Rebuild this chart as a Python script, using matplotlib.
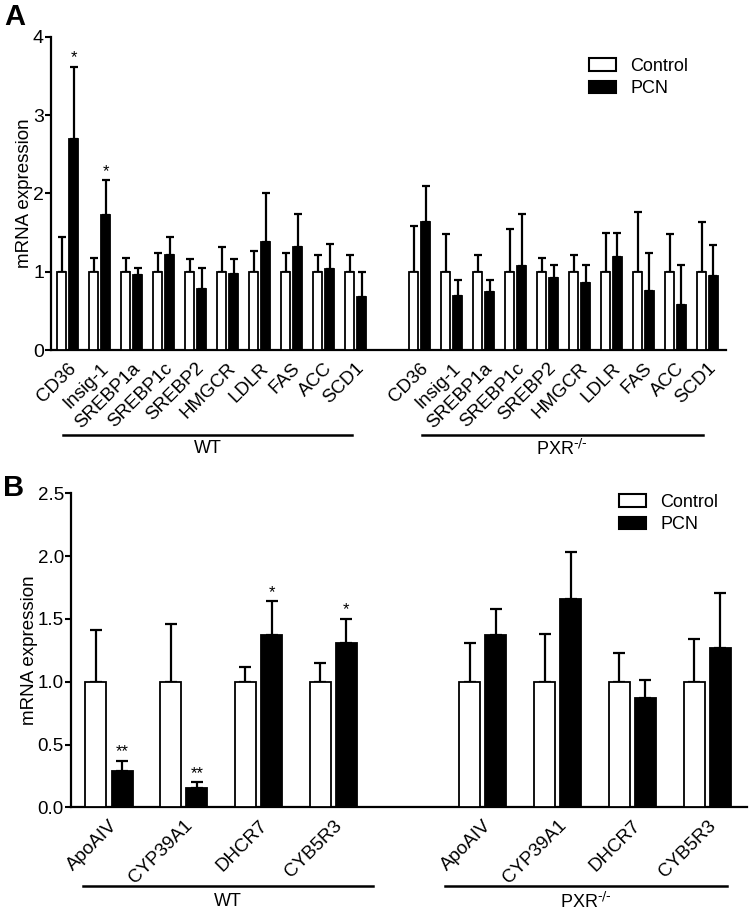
import matplotlib
matplotlib.use("Agg")
import matplotlib.pyplot as plt
import matplotlib.transforms as mtransforms
from matplotlib.patches import Patch
import numpy as np

plt.rcParams['font.family'] = ['Liberation Sans', 'DejaVu Sans']

# ---- panel A data ----
genes_a = ['CD36', 'Insig-1', 'SREBP1a', 'SREBP1c', 'SREBP2',
           'HMGCR', 'LDLR', 'FAS', 'ACC', 'SCD1']
wt_ctrl_a = [1, 1, 1, 1, 1, 1, 1, 1, 1, 1]
wt_ctrl_a_err = [0.45, 0.17, 0.17, 0.24, 0.16, 0.31, 0.26, 0.24, 0.21, 0.21]
wt_pcn_a = [2.70, 1.72, 0.96, 1.21, 0.78, 0.97, 1.38, 1.31, 1.04, 0.68]
wt_pcn_a_err = [0.92, 0.45, 0.09, 0.23, 0.27, 0.19, 0.62, 0.43, 0.32, 0.32]
wt_sig_a = ['*', '*', '', '', '', '', '', '', '', '']
ko_ctrl_a = [1, 1, 1, 1, 1, 1, 1, 1, 1, 1]
ko_ctrl_a_err = [0.58, 0.48, 0.21, 0.55, 0.18, 0.21, 0.49, 0.76, 0.48, 0.64]
ko_pcn_a = [1.63, 0.69, 0.74, 1.07, 0.92, 0.86, 1.19, 0.75, 0.58, 0.94]
ko_pcn_a_err = [0.46, 0.21, 0.15, 0.67, 0.17, 0.23, 0.31, 0.49, 0.50, 0.40]

# ---- panel B data ----
genes_b = ['ApoAIV', 'CYP39A1', 'DHCR7', 'CYB5R3']
wt_ctrl_b = [1, 1, 1, 1]
wt_ctrl_b_err = [0.41, 0.46, 0.12, 0.15]
wt_pcn_b = [0.29, 0.15, 1.37, 1.31]
wt_pcn_b_err = [0.08, 0.05, 0.27, 0.19]
wt_sig_b = ['**', '**', '*', '*']
ko_ctrl_b = [1, 1, 1, 1]
ko_ctrl_b_err = [0.31, 0.38, 0.23, 0.34]
ko_pcn_b = [1.37, 1.66, 0.87, 1.27]
ko_pcn_b_err = [0.21, 0.37, 0.14, 0.44]

groups = ['WT', r'PXR$^{\text{-/-}}$']


def draw_panel(fig, ax, genes, ctrl, ctrl_err, pcn, pcn_err, sig, width, gap,
               capsize, ylim, yticks, yfmt, ytick_fs, xlim, line_offs,
               line_y, text_y):
    n = len(genes)
    idx_wt = np.arange(n)
    idx_ko = np.arange(n) + n + 1
    x = np.concatenate([idx_wt, idx_ko])
    off = (width + gap) / 2.0
    ekw = dict(elinewidth=1.6, capthick=1.6, ecolor='black')
    ax.bar(x - off, ctrl, width, color='white', edgecolor='black',
           linewidth=1.3, zorder=3)
    ax.errorbar(x - off, ctrl, yerr=[np.zeros(len(ctrl)), ctrl_err],
                fmt='none', capsize=capsize, zorder=2, **ekw)
    ax.bar(x + off, pcn, width, color='black', edgecolor='black',
           linewidth=1.3, zorder=3)
    ax.errorbar(x + off, pcn, yerr=[np.zeros(len(pcn)), pcn_err],
                fmt='none', capsize=capsize, zorder=2, **ekw)
    for i, s in enumerate(sig):
        if s:
            top = pcn[i] + pcn_err[i]
            ax.annotate(s, (x[i] + off, top), xytext=(0, 1),
                        textcoords='offset points', ha='center',
                        va='bottom', fontsize=12)

    ax.set_xlim(*xlim)
    ax.set_ylim(*ylim)
    ax.set_yticks(yticks)
    ax.set_yticklabels([yfmt.format(v) for v in yticks], fontsize=ytick_fs)
    ax.set_xticks(x)
    ax.set_xticklabels(genes + genes, rotation=45, ha='right', va='top',
                       rotation_mode='anchor', fontsize=13.5)
    shift = mtransforms.ScaledTranslation(4 / 72, 0, fig.dpi_scale_trans)
    for lab in ax.get_xticklabels():
        lab.set_transform(lab.get_transform() + shift)
    ax.tick_params(axis='x', length=0, pad=7)
    ax.tick_params(axis='y', length=4, width=1.5, direction='out', pad=1)
    for sp in ['top', 'right']:
        ax.spines[sp].set_visible(False)
    for sp in ['left', 'bottom']:
        ax.spines[sp].set_linewidth(1.6)
    ax.set_ylabel('mRNA expression', fontsize=13.5, labelpad=0)

    trans = mtransforms.blended_transform_factory(ax.transData, ax.transAxes)
    for idx, name, lo in zip([idx_wt, idx_ko], groups, line_offs):
        x0 = idx[0] + lo[0]
        x1 = idx[-1] + lo[1]
        ax.plot([x0, x1], [line_y, line_y], color='black', lw=1.8,
                transform=trans, clip_on=False)
        ax.text((x0 + x1) / 2, text_y, name, transform=trans,
                ha='center', va='center', fontsize=13)


fig = plt.figure(figsize=(7.49, 9.11), dpi=100)

ax_a = fig.add_axes([0.068, 0.6158, 0.901, 0.3436])
draw_panel(fig, ax_a, genes_a, wt_ctrl_a + ko_ctrl_a, wt_ctrl_a_err + ko_ctrl_a_err,
           wt_pcn_a + ko_pcn_a, wt_pcn_a_err + ko_pcn_a_err,
           wt_sig_a + [''] * 10, width=0.28, gap=0.09, capsize=3,
           ylim=(0, 4), yticks=[0, 1, 2, 3, 4], yfmt='{:.0f}', ytick_fs=14,
           xlim=(-0.525, 20.57), line_offs=[(-0.15, -0.1), (0.06, -0.15)],
           line_y=-0.272, text_y=-0.315)

ax_b = fig.add_axes([0.0944, 0.1138, 0.9026, 0.3447])
draw_panel(fig, ax_b, genes_b, wt_ctrl_b + ko_ctrl_b, wt_ctrl_b_err + ko_ctrl_b_err,
           wt_pcn_b + ko_pcn_b, wt_pcn_b_err + ko_pcn_b_err,
           wt_sig_b + [''] * 4, width=0.28, gap=0.07, capsize=4.5,
           ylim=(0, 2.5), yticks=[0, 0.5, 1.0, 1.5, 2.0, 2.5], yfmt='{:.1f}',
           ytick_fs=13.5, xlim=(-0.512, 8.53),
           line_offs=[(-0.35, 0.53), (-0.5, 0.27)],
           line_y=-0.251, text_y=-0.3)

handles = [Patch(facecolor='white', edgecolor='black', linewidth=1.5, label='Control'),
           Patch(facecolor='black', edgecolor='black', linewidth=1.5, label='PCN')]
fig.legend(handles=handles, loc='upper left', bbox_to_anchor=(589 / 749, 1 - 58 / 911),
           frameon=False, fontsize=13, handlelength=1.5, handleheight=0.7,
           handletextpad=0.8, labelspacing=0.3, borderpad=0, borderaxespad=0)
fig.legend(handles=handles, loc='upper left', bbox_to_anchor=(619 / 749, 1 - 494 / 911),
           frameon=False, fontsize=13, handlelength=1.5, handleheight=0.7,
           handletextpad=0.8, labelspacing=0.3, borderpad=0, borderaxespad=0)

fig.text(0.006, 0.997, 'A', fontsize=21, fontweight='bold', va='top', ha='left')
fig.text(0.004, 0.48, 'B', fontsize=21, fontweight='bold', va='top', ha='left')

fig.savefig('out.png', dpi=100)
